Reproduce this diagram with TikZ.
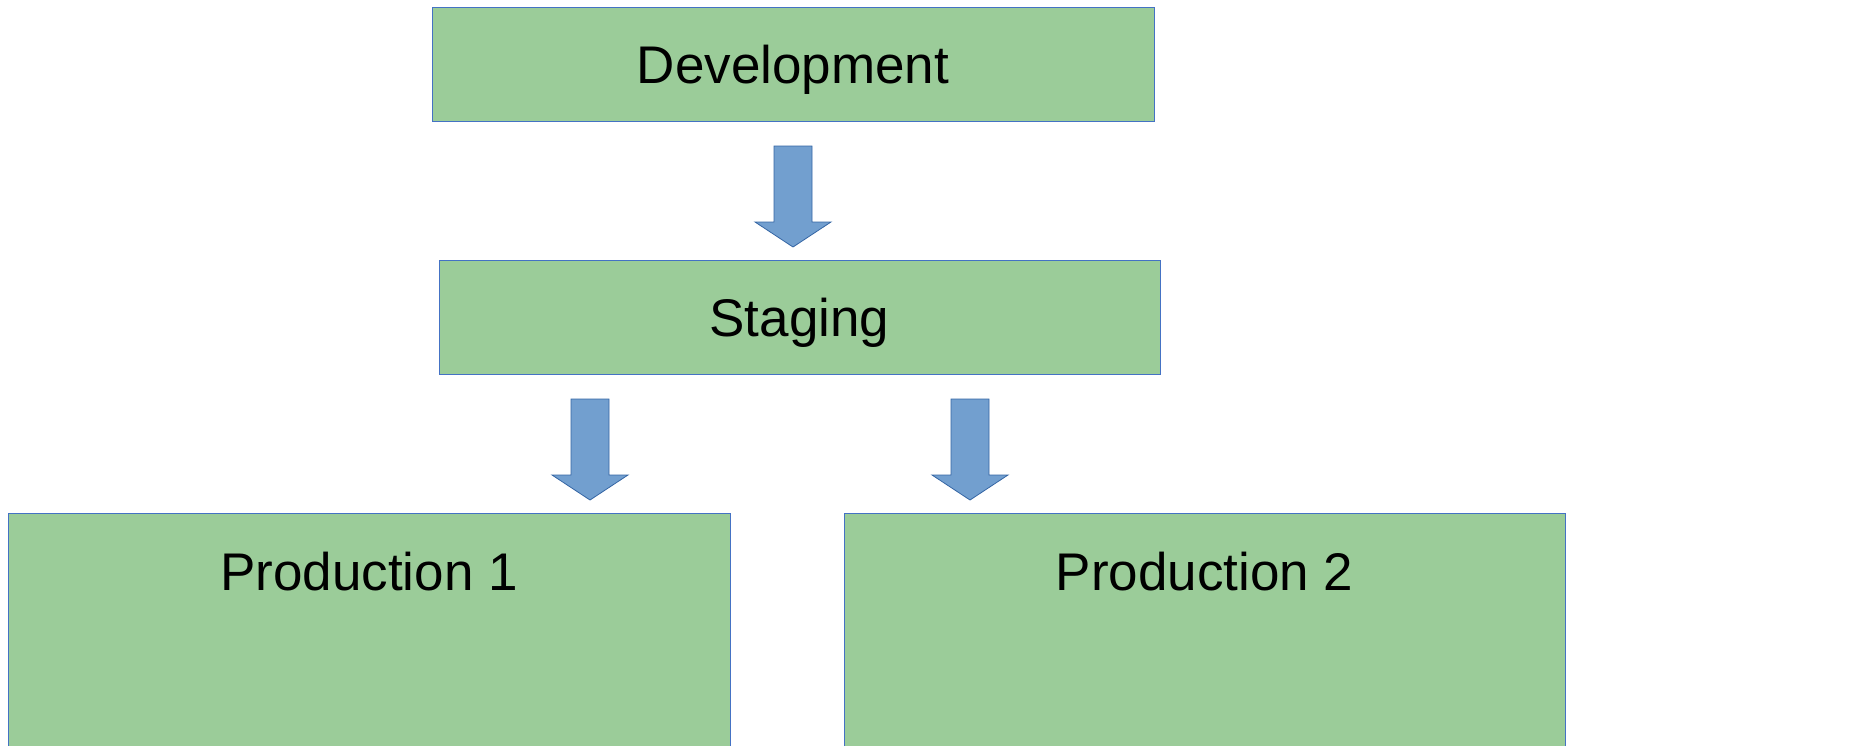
\documentclass[tikz,border=0pt]{standalone}
\usepackage{fontspec}
\setmainfont{Liberation Sans}
\usetikzlibrary{calc}
\definecolor{boxgreen}{RGB}{155,204,153}
\definecolor{boxline}{RGB}{68,114,196}
\definecolor{arrowfill}{RGB}{114,159,207}
\definecolor{arrowline}{RGB}{52,101,164}
\begin{document}
\begin{tikzpicture}[x=1pt,y=-1pt,
  envbox/.style={draw=boxline,fill=boxgreen,line width=0.9pt,rectangle,inner sep=0pt},
  envtext/.style={anchor=base,inner sep=0pt,font=\fontsize{53}{60}\selectfont},
  blockarrow/.style={draw=arrowline,fill=arrowfill,line width=0.8pt,line join=miter}]
\useasboundingbox (0,0) rectangle (1873,745);
\clip (0,0) rectangle (1873,745);
% boxes
\node[envbox,minimum width=722pt,minimum height=114pt] (dev) at (793,64) {};
\node[envbox,minimum width=721pt,minimum height=114pt] (stg) at (799.5,317) {};
\node[envbox,minimum width=722pt,minimum height=260pt] (p1) at (369,643) {};
\node[envbox,minimum width=721pt,minimum height=260pt] (p2) at (1204.5,643) {};
% texts
\node[envtext] (tdev) at (793,83) {Development};
\node[envtext] (tstg) at (799.5,336) {Staging};
\node[envtext] (tp1) at (369,590) {Production 1};
\node[envtext] (tp2) at (1204.5,590) {Production 2};
% block arrows
\coordinate (a1) at (793,146);
\coordinate (a2) at (590,399);
\coordinate (a3) at (970,399);
\foreach \c in {a1,a2,a3}{
  \draw[blockarrow] ($(\c)+(-19,0)$) -- ($(\c)+(19,0)$) -- ($(\c)+(19,76)$) -- ($(\c)+(38,76)$)
    -- ($(\c)+(0,101)$) -- ($(\c)+(-38,76)$) -- ($(\c)+(-19,76)$) -- cycle;
}
\end{tikzpicture}
\end{document}
